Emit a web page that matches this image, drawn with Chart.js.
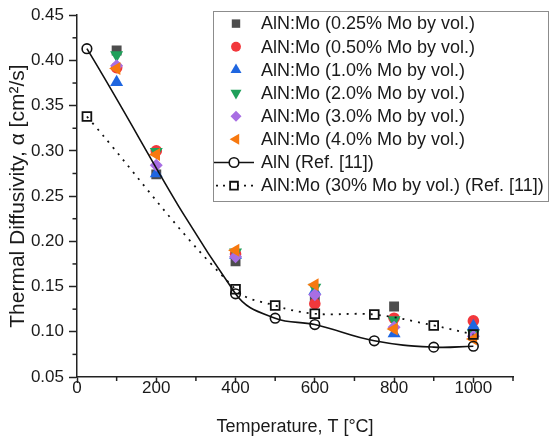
<!DOCTYPE html>
<html>
<head>
<meta charset="utf-8">
<script src="https://cdn.jsdelivr.net/npm/chart.js@4/dist/chart.umd.min.js"></script>
<style>
  html, body { margin: 0; padding: 0; background: #fff; }
  #wrap { width: 549px; height: 442px; }
</style>
</head>
<body>
<div id="wrap"><canvas id="c" width="549" height="442"></canvas></div>
<script>
// ---- data ----
const temps   = [100, 200, 400, 600, 800, 1000];
const mo025   = [0.411, 0.274, 0.178, 0.135, 0.128, 0.100];
const mo050   = [0.392, 0.300, 0.186, 0.131, 0.115, 0.112];
const mo100   = [0.376, 0.275, 0.185, 0.145, 0.098, 0.106];
const mo200   = [0.406, 0.299, 0.188, 0.149, 0.113, 0.098];
const mo300   = [0.394, 0.284, 0.183, 0.141, 0.105, 0.095];
const mo400   = [0.391, 0.296, 0.190, 0.152, 0.103, 0.092];
const refTemps = [25, 400, 500, 600, 750, 900, 1000];
const alnRef   = [0.413, 0.142, 0.115, 0.108, 0.090, 0.083, 0.084];
const mo30Ref  = [0.338, 0.147, 0.129, 0.120, 0.119, 0.107, 0.097];

const xTicks = [0, 200, 400, 600, 800, 1000];
const xMinorTicks = [100, 300, 500, 700, 900, 1100];
const yTicks = [0.05, 0.10, 0.15, 0.20, 0.25, 0.30, 0.35, 0.40, 0.45];
const yMinorTicks = [0.075, 0.125, 0.175, 0.225, 0.275, 0.325, 0.375, 0.425];

const labels = [
  'AlN:Mo (0.25% Mo by vol.)',
  'AlN:Mo (0.50% Mo by vol.)',
  'AlN:Mo (1.0% Mo by vol.)',
  'AlN:Mo (2.0% Mo by vol.)',
  'AlN:Mo (3.0% Mo by vol.)',
  'AlN:Mo (4.0% Mo by vol.)',
  'AlN (Ref. [11])',
  'AlN:Mo (30% Mo by vol.) (Ref. [11])'
];
const xTitle = 'Temperature, T [°C]';
const yTitle = 'Thermal Diffusivity, α [cm²/s]';

const FONT = "'Liberation Sans', Arial, sans-serif";
const TXT = '#1a1a1a';

function pts(xs, ys) { return xs.map((x, i) => ({ x: x, y: ys[i] })); }

const series = [
  { data: mo025, color: '#4d4d4d', style: 'rect',     r: 7,   rot: 0 },
  { data: mo050, color: '#f2383c', style: 'circle',   r: 5.8, rot: 0 },
  { data: mo100, color: '#1f66e0', style: 'triangle', r: 7.5, rot: 0 },
  { data: mo200, color: '#1fa05a', style: 'triangle', r: 7.5, rot: 180 },
  { data: mo300, color: '#a86ee3', style: 'rectRot',  r: 6.5, rot: 0 },
  { data: mo400, color: '#f7780f', style: 'triangle', r: 7.5, rot: -90 }
];

const datasets = series.map((s, i) => ({
  label: labels[i],
  data: pts(temps, s.data),
  showLine: false,
  pointStyle: s.style,
  pointRotation: s.rot,
  pointRadius: s.r,
  pointBackgroundColor: s.color,
  pointBorderColor: s.color,
  pointBorderWidth: 0,
  order: 10 - i
}));

datasets.push({
  label: labels[6],
  data: pts(refTemps, alnRef),
  showLine: true,
  borderColor: '#111',
  borderWidth: 1.6,
  tension: 0.4,
  pointStyle: 'circle',
  pointRadius: 4.8,
  pointBackgroundColor: 'rgba(0,0,0,0)',
  pointBorderColor: '#111',
  pointBorderWidth: 1.6,
  order: 2
});
datasets.push({
  label: labels[7],
  data: pts(refTemps, mo30Ref),
  showLine: true,
  borderColor: '#111',
  borderWidth: 1.8,
  borderDash: [2, 6],
  tension: 0.4,
  pointStyle: 'rect',
  pointRadius: 6.2,
  pointBackgroundColor: 'rgba(0,0,0,0)',
  pointBorderColor: '#111',
  pointBorderWidth: 1.8,
  order: 1
});

function drawMarker(ctx, style, x, y, r, rot, fill, stroke, lw) {
  ctx.save();
  ctx.beginPath();
  const rad = rot * Math.PI / 180;
  if (style === 'circle') {
    ctx.arc(x, y, r, 0, Math.PI * 2);
  } else if (style === 'rect') {
    const s = Math.SQRT1_2 * r;
    ctx.rect(x - s, y - s, 2 * s, 2 * s);
  } else if (style === 'rectRot') {
    ctx.moveTo(x - r, y); ctx.lineTo(x, y - r); ctx.lineTo(x + r, y); ctx.lineTo(x, y + r);
    ctx.closePath();
  } else if (style === 'triangle') {
    let a = rad;
    ctx.moveTo(x + Math.sin(a) * r, y - Math.cos(a) * r);
    a += 2 * Math.PI / 3;
    ctx.lineTo(x + Math.sin(a) * r, y - Math.cos(a) * r);
    a += 2 * Math.PI / 3;
    ctx.lineTo(x + Math.sin(a) * r, y - Math.cos(a) * r);
    ctx.closePath();
  }
  if (fill) { ctx.fillStyle = fill; ctx.fill(); }
  if (stroke) { ctx.strokeStyle = stroke; ctx.lineWidth = lw; ctx.stroke(); }
  ctx.restore();
}

const extras = {
  id: 'extras',
  afterDraw(chart) {
    const ctx = chart.ctx;
    const xs = chart.scales.x, ys = chart.scales.y;
    const area = chart.chartArea;
    // minor ticks
    ctx.save();
    ctx.strokeStyle = '#222';
    ctx.lineWidth = 1.5;
    xMinorTicks.forEach(v => {
      const px = xs.getPixelForValue(v);
      ctx.beginPath(); ctx.moveTo(px, area.bottom); ctx.lineTo(px, area.bottom + 4); ctx.stroke();
    });
    yMinorTicks.forEach(v => {
      const py = ys.getPixelForValue(v);
      ctx.beginPath(); ctx.moveTo(area.left, py); ctx.lineTo(area.left - 4.5, py); ctx.stroke();
    });
    ctx.restore();

    // legend
    const bx = 213, by = 11, bw = 335, bh = 190;
    ctx.save();
    ctx.fillStyle = '#fff';
    ctx.fillRect(bx, by, bw, bh);
    ctx.strokeStyle = '#8c8c8c';
    ctx.lineWidth = 1;
    ctx.strokeRect(bx + 0.5, by + 0.5, bw, bh);
    const rowH = 23.15, y0 = 23.6, mx = 236, tx = 261;
    ctx.font = '18px ' + FONT;
    ctx.textBaseline = 'middle';
    ctx.fillStyle = TXT;
    for (let i = 0; i < 8; i++) {
      const y = y0 + i * rowH;
      if (i < 6) {
        const s = series[i];
        drawMarker(ctx, s.style, mx, y, s.r * 0.85, s.rot, s.color, null, 0);
      } else if (i === 6) {
        ctx.beginPath(); ctx.strokeStyle = '#111'; ctx.lineWidth = 1.6;
        ctx.moveTo(214, y); ctx.lineTo(254, y); ctx.stroke();
        drawMarker(ctx, 'circle', 234, y, 4.8, 0, '#fff', '#111', 1.6);
      } else {
        ctx.save();
        ctx.beginPath(); ctx.strokeStyle = '#111'; ctx.lineWidth = 1.8;
        ctx.setLineDash([2, 5]);
        ctx.moveTo(216, y); ctx.lineTo(256, y); ctx.stroke();
        ctx.restore();
        drawMarker(ctx, 'rect', 234, y, 5.5, 0, '#fff', '#111', 1.8);
      }
      ctx.fillStyle = TXT;
      ctx.fillText(labels[i], tx, y + 0.8);
    }
    ctx.restore();
  }
};

new Chart(document.getElementById('c'), {
  type: 'scatter',
  data: { datasets: datasets },
  options: {
    responsive: false,
    animation: false,
    devicePixelRatio: 1,
    layout: { padding: { left: 0, right: 36, top: 14, bottom: 0 } },
    plugins: { legend: { display: false }, tooltip: { enabled: false } },
    scales: {
      x: {
        type: 'linear', min: 0, max: 1100,
        afterBuildTicks: s => { s.ticks = xTicks.map(v => ({ value: v })); },
        afterFit: s => { s.height = 65; },
        grid: { drawOnChartArea: false, drawTicks: true, tickLength: 6, tickColor: '#222', tickWidth: 1.5 },
        border: { display: true, color: '#222', width: 1.5 },
        ticks: { color: TXT, font: { family: FONT, size: 17, lineHeight: 1 }, padding: -3, maxRotation: 0, callback: v => String(v) },
        title: { display: true, text: xTitle, color: TXT, font: { family: FONT, size: 18 }, padding: { top: 4, bottom: 4 } }
      },
      y: {
        type: 'linear', min: 0.05, max: 0.45,
        afterBuildTicks: s => { s.ticks = yTicks.map(v => ({ value: v })); },
        afterFit: s => { s.width = 77; },
        grid: { drawOnChartArea: false, drawTicks: true, tickLength: 8, tickColor: '#222', tickWidth: 1.5 },
        border: { display: true, color: '#222', width: 1.5 },
        ticks: { color: TXT, font: { family: FONT, size: 17 }, padding: 5, callback: v => v.toFixed(2) },
        title: { display: true, text: yTitle, color: TXT, font: { family: FONT, size: 21 }, padding: { top: 6, bottom: 0 } }
      }
    }
  },
  plugins: [extras]
});
</script>
</body>
</html>
